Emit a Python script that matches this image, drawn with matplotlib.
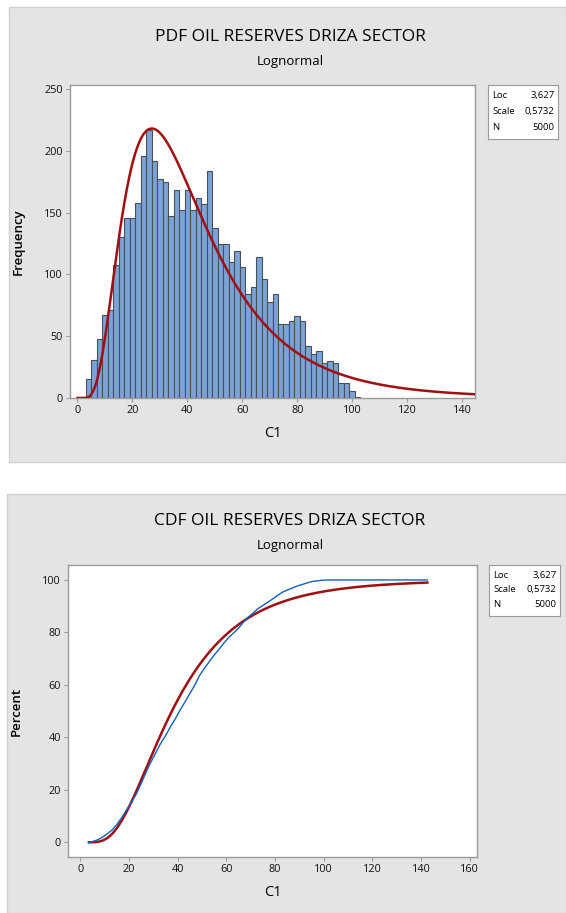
import math
import numpy as np
import matplotlib
matplotlib.use("Agg")
from matplotlib import pyplot as plt
from matplotlib.patches import Rectangle

# histogram of C1 (bin width 2, first edge at 3)
bin_start = 3
bin_width = 2
counts = [15, 31, 48, 67, 71, 108, 130, 146, 146, 158,
          196, 217, 192, 177, 175, 147, 168, 152, 168, 152,
          162, 157, 184, 138, 125, 125, 110, 119, 106, 84,
          90, 114, 96, 78, 84, 60, 60, 62, 66, 62,
          42, 36, 38, 28, 30, 28, 12, 12, 6, 1]
data_min = 3.5
data_max = 142.6

# fitted lognormal
loc = 3.627
scale = 0.5732
n_obs = 5000

title_pdf = "PDF OIL RESERVES DRIZA SECTOR"
title_cdf = "CDF OIL RESERVES DRIZA SECTOR"
subtitle = "Lognormal"

W, H = 566, 913
fig = plt.figure(figsize=(W / 100, H / 100), dpi=100)
fig.patch.set_facecolor("white")
plt.rcParams['font.family'] = ['Open Sans', 'DejaVu Sans']

panel = "#e4e4e4"
frame = "#9a9a9a"
red = "#a00f12"
blue = "#1060c0"


def px_rect(x0, y0, x1, y1):
    # pixel box (top-left origin) -> figure fraction
    return [x0 / W, 1 - y1 / H, (x1 - x0) / W, (y1 - y0) / H]


def add_panel(y0, y1, x0):
    r = Rectangle((x0 / W, 1 - y1 / H), (W - x0) / W, (y1 - y0) / H,
                  transform=fig.transFigure, facecolor=panel,
                  edgecolor="#d0d0d0", lw=1, zorder=-5)
    fig.patches.append(r)


def style_axes(ax):
    for s in ax.spines.values():
        s.set_color(frame)
        s.set_linewidth(1)
    ax.tick_params(direction="out", length=3, color=frame, labelsize=7.8,
                   pad=2, labelcolor="#111111")


def stats_box(x0, y0, x1, y1):
    bx = fig.add_axes(px_rect(x0, y0, x1, y1))
    bx.set_xticks([])
    bx.set_yticks([])
    for s in bx.spines.values():
        s.set_color(frame)
    rows = [("Loc", f"{loc:.3f}".replace(".", ",")),
            ("Scale", f"{scale:.4f}".replace(".", ",")),
            ("N", str(n_obs))]
    for i, (k, v) in enumerate(rows):
        yy = 0.80 - i * 0.29
        bx.text(0.06, yy, k, fontsize=6.8, va="center", ha="left")
        bx.text(0.95, yy, v, fontsize=6.8, va="center", ha="right")


edges = bin_start + bin_width * np.arange(len(counts) + 1)
counts_arr = np.array(counts)

# ---------- PDF panel ----------
add_panel(7, 462, 9)
ax1 = fig.add_axes(px_rect(70, 85, 475, 398))
ax1.bar(edges[:-1], counts_arr, width=bin_width, align="edge",
        color="#7aa3d6", edgecolor="#4a5058", linewidth=0.8, zorder=2)
xs = np.linspace(0.01, 144.7, 600)
pdf = np.exp(-(np.log(xs) - loc) ** 2 / (2 * scale ** 2)) / (xs * scale * math.sqrt(2 * math.pi))
ax1.plot(xs, pdf * n_obs * bin_width, color=red, lw=1.8, zorder=3)
ax1.set_xlim(-2.7, 144.7)
ax1.set_ylim(0, 253.4)
ax1.set_xticks(range(0, 141, 20))
ax1.set_yticks(range(0, 251, 50))
style_axes(ax1)
ax1.set_xlabel("C1", fontsize=10.5, labelpad=7)
ax1.set_ylabel("Frequency", fontsize=9.5, labelpad=14, fontweight="semibold")
fig.text(290 / W, 1 - 37 / H, title_pdf, ha="center", va="center",
         fontsize=12.5, fontweight="medium")
fig.text(290 / W, 1 - 62 / H, subtitle, ha="center", va="center",
         fontsize=9.5, fontweight="medium")
stats_box(488, 85, 558, 139)

# ---------- CDF panel ----------
add_panel(494, 913, 7)
ax2 = fig.add_axes(px_rect(68, 565, 477, 857))
# empirical cdf from histogram
cum = np.concatenate([[0], np.cumsum(counts_arr)]) / counts_arr.sum() * 100
ex = np.concatenate([[data_min], edges[1:], [data_max]])
ey = np.concatenate([cum, [100]])
ax2.plot(ex, ey, color=blue, lw=1.0, zorder=3)
xc = np.linspace(data_min, data_max, 500)
zc = (np.log(xc) - loc) / (scale * math.sqrt(2))
cdf = np.array([0.5 * (1 + math.erf(z)) for z in zc]) * 100
ax2.plot(xc, cdf, color=red, lw=1.8, zorder=2)
ax2.set_xlim(-5.1, 163)
ax2.set_ylim(-5.6, 105.7)
ax2.set_xticks(range(0, 161, 20))
ax2.set_yticks(range(0, 101, 20))
style_axes(ax2)
ax2.set_xlabel("C1", fontsize=10.5, labelpad=7)
ax2.set_ylabel("Percent", fontsize=9.5, labelpad=14, fontweight="semibold")
fig.text(290 / W, 1 - 521 / H, title_cdf, ha="center", va="center",
         fontsize=12.5, fontweight="medium")
fig.text(290 / W, 1 - 545 / H, subtitle, ha="center", va="center",
         fontsize=9.5, fontweight="medium")
stats_box(489, 565, 560, 616)

fig.savefig("out.png", dpi=100, facecolor="white")
